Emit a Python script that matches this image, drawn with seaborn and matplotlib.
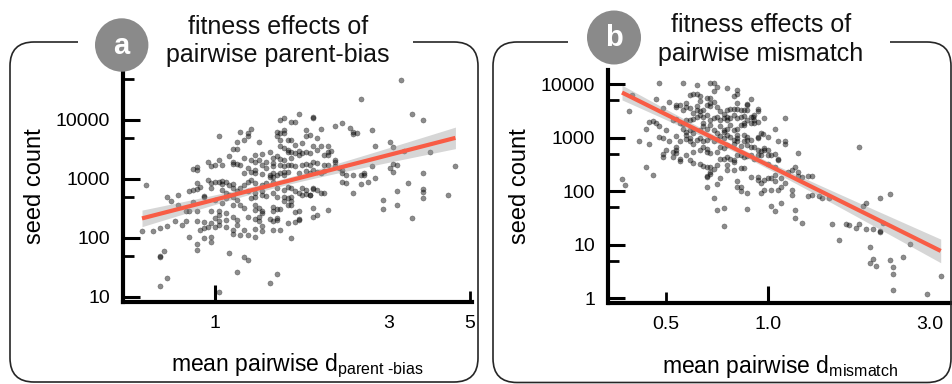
import numpy as np
import pandas as pd
import seaborn as sns
import matplotlib
matplotlib.use("Agg")
import matplotlib.pyplot as plt
from matplotlib.patches import FancyBboxPatch, Circle, Rectangle
from matplotlib.ticker import FixedLocator, FixedFormatter, LogLocator, NullFormatter, NullLocator
from matplotlib.transforms import IdentityTransform

# ---------------------------------------------------------------------------
# Data (log10 scale): mean pairwise distance and seed count for each cross
# ---------------------------------------------------------------------------
parent_bias_log10_d = [
    -0.19, -0.20, -0.17, -0.15, -0.13, -0.13, -0.12, -0.10, -0.10, -0.11,
    -0.09, -0.08, -0.08, -0.07, -0.05, -0.06, -0.07, -0.06, -0.05, -0.05,
    -0.04, -0.03, -0.03, -0.02, -0.01, -0.01, -0.06, -0.05, -0.05, -0.02,
    -0.01, 0.00, 0.01, 0.01, 0.02, 0.04, 0.05, 0.05, 0.06, 0.05,
    0.07, 0.08, 0.06, 0.06, 0.07, 0.08, 0.00, 0.01, 0.02, 0.02,
    0.03, 0.04, 0.05, 0.05, 0.06, 0.07, 0.08, 0.08, 0.02, 0.03,
    0.03, 0.04, 0.05, 0.06, 0.05, 0.07, 0.08, 0.00, -0.01, 0.01,
    0.01, 0.00, 0.01, 0.02, 0.03, 0.03, 0.05, 0.06, 0.06, 0.03,
    0.05, 0.05, 0.07, -0.05, -0.03, -0.04, -0.03, -0.02, -0.01, 0.00,
    0.01, -0.07, -0.03, -0.01, -0.05, -0.05, -0.01, 0.08, 0.08, -0.14,
    -0.15, -0.15, -0.13, -0.15, 0.04, 0.06, 0.01,
    0.40, 0.23, 0.21, 0.22, 0.19, 0.18, 0.27, 0.27, 0.10, 0.09,
    0.09, 0.12, 0.17, 0.18, 0.19, 0.19, 0.17, 0.25, 0.26, 0.25,
    0.28, 0.29, 0.33, 0.35, 0.37, 0.38, 0.39, 0.38, 0.18, 0.20,
    0.21, 0.22, 0.24, 0.27, 0.18, 0.19, 0.20, 0.20, 0.21, 0.22,
    0.23, 0.23, 0.24, 0.25, 0.26, 0.28, 0.29, 0.31, 0.31, 0.32,
    0.11, 0.13, 0.15, 0.16, 0.17, 0.18, 0.19, 0.21, 0.10, 0.11,
    0.12, 0.13, 0.14, 0.30, 0.31, 0.33, 0.33, 0.16, 0.16, 0.18,
    0.19, 0.20, 0.21, 0.22, 0.24, 0.25, 0.26, 0.27, 0.28, 0.30,
    0.31, 0.33, 0.34, 0.35, 0.09, 0.10, 0.11, 0.11, 0.13, 0.14,
    0.15, 0.15, 0.16, 0.16, 0.17, 0.18, 0.19, 0.19, 0.20, 0.23,
    0.25, 0.26, 0.27, 0.28, 0.29, 0.30, 0.35, 0.36, 0.38, 0.40,
    0.41, 0.09, 0.10, 0.11, 0.13, 0.14, 0.16, 0.17, 0.19, 0.20,
    0.21, 0.22, 0.24, 0.25, 0.26, 0.27, 0.27, 0.28, 0.35, 0.36,
    0.40, 0.09, 0.10, 0.11, 0.11, 0.13, 0.13, 0.14, 0.16, 0.17,
    0.19, 0.19, 0.20, 0.21, 0.21, 0.23, 0.24, 0.25, 0.26, 0.29,
    0.30, 0.38, 0.11, 0.11, 0.12, 0.13, 0.12, 0.13, 0.16, 0.16,
    0.17, 0.18, 0.20, 0.21, 0.22, 0.23, 0.27, 0.28, 0.27, 0.31,
    0.09, 0.11, 0.12, 0.13, 0.15, 0.17, 0.17, 0.16, 0.20, 0.22,
    0.23, 0.23, 0.09, 0.11, 0.11, 0.13, 0.16, 0.18, 0.21, 0.09,
    0.17, 0.15,
    0.51, 0.54, 0.57, 0.43, 0.44, 0.48, 0.49, 0.52, 0.59, 0.43,
    0.41, 0.42, 0.49, 0.50, 0.48, 0.49, 0.44, 0.66, 0.57, 0.53,
    0.50, 0.57, 0.57, 0.57, 0.64, 0.46, 0.46, 0.50, 0.54,
]
parent_bias_log10_seeds = [
    2.89, 2.11, 2.12, 2.16, 2.20, 2.69, 2.62, 2.73, 2.55, 2.29,
    2.22, 2.28, 2.46, 2.46, 2.46, 2.60, 2.79, 2.82, 2.83, 2.93,
    2.87, 2.70, 2.71, 2.98, 2.93, 2.84, 3.17, 3.20, 3.15, 3.28,
    3.22, 3.24, 3.73, 3.32, 3.24, 3.39, 3.25, 3.29, 3.51, 3.51,
    3.79, 3.66, 3.63, 3.25, 3.24, 3.35, 2.94, 2.95, 2.96, 2.91,
    2.94, 2.89, 2.92, 2.84, 2.79, 2.84, 2.90, 3.10, 2.81, 2.76,
    2.67, 2.72, 2.70, 2.64, 2.56, 2.56, 2.51, 2.64, 2.45, 2.45,
    2.39, 2.33, 2.28, 2.59, 2.43, 2.31, 2.36, 2.31, 2.22, 2.18,
    2.14, 2.06, 2.05, 2.28, 2.27, 2.14, 2.16, 2.19, 2.25, 2.18,
    2.22, 2.02, 1.99, 2.01, 1.90, 1.80, 1.93, 2.14, 1.67, 1.77,
    1.69, 1.67, 1.32, 1.18, 1.74, 1.43, 1.08,
    4.35, 4.10, 3.97, 3.96, 4.03, 4.00, 4.03, 4.05, 3.85, 3.77,
    3.72, 3.62, 3.80, 3.77, 3.82, 3.77, 3.73, 3.83, 3.75, 3.72,
    3.70, 3.85, 3.90, 3.94, 3.86, 3.80, 3.77, 3.76, 3.66, 3.66,
    3.66, 3.58, 3.60, 3.56, 3.55, 3.52, 3.49, 3.45, 3.46, 3.44,
    3.41, 3.47, 3.44, 3.46, 3.44, 3.49, 3.55, 3.56, 3.46, 3.47,
    3.41, 3.42, 3.45, 3.36, 3.38, 3.34, 3.32, 3.35, 3.32, 3.28,
    3.32, 3.24, 3.29, 3.40, 3.41, 3.32, 3.29, 3.27, 3.22, 3.24,
    3.21, 3.24, 3.24, 3.21, 3.24, 3.25, 3.24, 3.29, 3.27, 3.24,
    3.23, 3.21, 3.18, 3.15, 3.18, 3.12, 3.10, 3.15, 3.08, 3.18,
    3.07, 3.04, 3.10, 3.04, 3.07, 3.10, 3.12, 3.07, 3.12, 3.10,
    3.14, 3.10, 3.15, 3.12, 3.10, 3.14, 3.10, 3.07, 3.06, 3.07,
    3.10, 2.95, 2.98, 2.93, 2.90, 2.93, 2.95, 2.84, 2.81, 2.87,
    2.84, 2.79, 2.84, 2.81, 2.73, 2.85, 2.83, 2.81, 2.95, 2.93,
    2.91, 2.79, 2.68, 2.70, 2.76, 2.73, 2.79, 2.71, 2.76, 2.70,
    2.70, 2.62, 2.67, 2.70, 2.63, 2.76, 2.73, 2.74, 2.72, 2.76,
    2.76, 2.76, 2.56, 2.47, 2.50, 2.46, 2.36, 2.42, 2.53, 2.45,
    2.49, 2.49, 2.56, 2.56, 2.44, 2.45, 2.51, 2.38, 2.35, 2.47,
    2.36, 2.32, 2.28, 2.21, 2.32, 2.34, 2.31, 2.28, 2.25, 2.27,
    2.30, 2.32, 2.05, 2.15, 2.02, 2.11, 2.14, 2.14, 2.00, 1.62,
    1.38, 1.23,
    4.67, 4.10, 4.00, 3.83, 3.55, 3.62, 3.54, 3.47, 3.45, 3.21,
    3.07, 2.94, 3.25, 3.23, 3.19, 3.12, 3.01, 3.22, 3.10, 2.93,
    2.80, 2.83, 2.77, 2.67, 2.73, 2.64, 2.49, 2.55, 2.34,
]

mismatch_log10_d = [
    -0.32, -0.25, -0.21, -0.17, -0.16, -0.40, -0.41, -0.33, -0.31, -0.23,
    -0.22, -0.21, -0.20, -0.20, -0.18, -0.17, -0.16, -0.15, -0.29, -0.27,
    -0.27, -0.26, -0.25, -0.24, -0.24, -0.23, -0.22, -0.21, -0.21, -0.20,
    -0.19, -0.18, -0.17, -0.17, -0.16, -0.15, -0.35, -0.34, -0.33, -0.32,
    -0.36, -0.30, -0.28, -0.27, -0.26, -0.25, -0.24, -0.23, -0.22, -0.21,
    -0.20, -0.19, -0.18, -0.17, -0.16, -0.15, -0.38, -0.35, -0.32, -0.31,
    -0.29, -0.27, -0.26, -0.27, -0.27, -0.27, -0.28, -0.25, -0.24, -0.24,
    -0.23, -0.22, -0.22, -0.20, -0.19, -0.19, -0.18, -0.17, -0.16, -0.15,
    -0.24, -0.23, -0.23, -0.22, -0.21, -0.20, -0.19, -0.18, -0.17, -0.16,
    -0.15, -0.30, -0.31, -0.31, -0.28, -0.26, -0.26, -0.24, -0.23, -0.22,
    -0.20, -0.19, -0.18, -0.18, -0.17, -0.15, -0.22, -0.20, -0.19, -0.18,
    -0.17, -0.16, -0.15, -0.18, -0.18, -0.17, -0.17, -0.18, -0.15, -0.14,
    -0.36, -0.34, -0.43, -0.42, -0.16, -0.15,
    -0.12, -0.09, -0.10, -0.09, -0.09, -0.05, -0.06, -0.06, -0.14, -0.13,
    -0.12, -0.11, -0.10, -0.09, -0.08, -0.07, -0.06, -0.03, -0.03, -0.14,
    -0.13, -0.12, -0.12, -0.11, -0.10, -0.09, -0.08, -0.07, -0.05, -0.045,
    -0.04, -0.01, 0.05, -0.14, -0.13, -0.13, -0.12, -0.11, -0.10, -0.09,
    -0.08, -0.07, -0.07, -0.06, -0.05, -0.04, -0.04, -0.03, 0.02, 0.00,
    -0.14, -0.13, -0.12, -0.11, -0.10, -0.09, -0.09, -0.07, -0.06, -0.06,
    -0.05, -0.03, -0.02, -0.015, -0.03, 0.03, 0.05, 0.05, -0.14, -0.13,
    -0.12, -0.10, -0.09, -0.08, -0.07, -0.06, -0.05, -0.04, -0.03, -0.01,
    -0.02, -0.01, 0.00, 0.09, -0.14, -0.13, -0.12, -0.11, -0.10, -0.10,
    -0.09, -0.08, -0.07, -0.06, -0.05, -0.04, -0.03, -0.02, 0.00, 0.01,
    0.02, 0.03, 0.03, -0.12, -0.12, -0.10, -0.08, -0.07, 0.00, 0.02,
    -0.05, -0.03, -0.03, -0.02, -0.01, 0.00, 0.01, 0.02, 0.02, 0.04,
    0.05, -0.09, -0.09, -0.08, -0.08, -0.06, -0.02, -0.01, 0.01, 0.03,
    0.04, 0.07, 0.07, 0.06, 0.07, 0.08, 0.09, 0.09, 0.10, 0.12,
    0.13, 0.12, 0.13, 0.15, 0.16, 0.18, -0.13, -0.06, 0.01, 0.02,
    0.04, 0.08, 0.08, 0.10, -0.13, 0.19,
    0.27, 0.33, 0.36, 0.28, 0.29, 0.23, 0.24, 0.26, 0.27, 0.29,
    0.31, 0.33, 0.33, 0.34, 0.21, 0.30, 0.42, 0.30, 0.31, 0.32,
    0.36, 0.37, 0.40, 0.37, 0.37, 0.47, 0.51,
]
mismatch_log10_seeds = [
    4.02, 4.03, 3.99, 4.03, 4.03, 3.79, 3.50, 3.72, 3.55, 3.80,
    3.82, 3.81, 3.78, 3.69, 3.75, 3.74, 3.88, 3.95, 3.67, 3.61,
    3.58, 3.61, 3.52, 3.58, 3.64, 3.55, 3.47, 3.52, 3.59, 3.49,
    3.52, 3.61, 3.59, 3.64, 3.67, 3.58, 3.29, 3.32, 3.27, 3.22,
    3.16, 3.14, 3.33, 3.34, 3.27, 3.26, 3.33, 3.33, 3.34, 3.39,
    3.42, 3.39, 3.42, 3.33, 3.36, 3.39, 2.94, 2.88, 3.02, 2.99,
    2.93, 3.04, 2.93, 2.83, 2.77, 2.72, 2.63, 3.17, 3.11, 3.05,
    3.14, 3.08, 3.17, 3.14, 3.27, 3.21, 3.17, 3.24, 3.14, 3.08,
    2.97, 2.93, 2.99, 2.89, 2.96, 2.99, 2.93, 2.96, 3.02, 2.93,
    2.97, 2.76, 2.69, 2.64, 2.74, 2.61, 2.57, 2.68, 2.58, 2.74,
    2.77, 2.83, 2.74, 2.78, 2.71, 2.74, 2.52, 2.51, 2.47, 2.45,
    2.46, 2.41, 2.49, 2.27, 2.28, 2.32, 2.36, 2.07, 2.13, 2.24,
    2.46, 2.31, 2.22, 2.12, 1.87, 1.64,
    3.92, 3.89, 3.77, 3.82, 3.65, 3.72, 3.63, 3.61, 3.49, 3.45,
    3.52, 3.53, 3.53, 3.53, 3.52, 3.52, 3.52, 3.53, 3.50, 3.33,
    3.36, 3.33, 3.39, 3.36, 3.42, 3.36, 3.39, 3.41, 3.39, 3.39,
    3.42, 3.36, 3.36, 3.21, 3.14, 3.11, 3.17, 3.24, 3.14, 3.17,
    3.24, 3.27, 3.24, 3.33, 3.27, 3.27, 3.33, 3.30, 3.16, 3.02,
    3.03, 2.99, 3.05, 3.02, 2.96, 2.99, 3.05, 3.05, 3.02, 2.96,
    2.96, 3.02, 3.08, 3.07, 2.99, 2.93, 2.94, 2.89, 2.83, 2.80,
    2.86, 2.89, 2.93, 2.84, 2.93, 2.86, 2.83, 2.83, 2.77, 2.80,
    2.75, 2.77, 2.77, 2.71, 2.61, 2.61, 2.64, 2.61, 2.55, 2.58,
    2.68, 2.68, 2.64, 2.66, 2.68, 2.61, 2.68, 2.68, 2.68, 2.68,
    2.69, 2.58, 2.60, 2.49, 2.40, 2.40, 2.43, 2.44, 2.51, 2.46,
    2.27, 2.27, 2.21, 2.15, 2.21, 2.24, 2.24, 2.30, 2.19, 2.24,
    2.15, 2.19, 2.07, 2.07, 2.01, 1.97, 1.97, 2.02, 2.03, 2.02,
    2.08, 2.03, 1.93, 2.36, 2.40, 2.46, 2.36, 2.28, 2.27, 2.28,
    2.28, 1.91, 1.93, 1.90, 1.88, 1.87, 1.69, 1.67, 1.73, 1.63,
    1.77, 1.65, 1.50, 1.41, 1.35, 1.39,
    2.83, 1.88, 1.95, 1.72, 1.77, 1.38, 1.36, 1.32, 1.39, 1.29,
    1.29, 1.26, 1.23, 1.40, 1.09, 0.96, 1.02, 0.65, 0.73, 0.60,
    0.71, 0.58, 0.76, 0.45, 0.15, 0.08, 0.42,
]

# tick values and labels
pb_xticks, pb_xticklabels = [1, 3, 5], ["1", "3", "5"]
pb_yticks, pb_yticklabels = [10, 100, 1000, 10000], ["10", "100", "1000", "10000"]
mm_xticks, mm_xticklabels = [0.5, 1.0, 3.0], ["0.5", "1.0", "3.0"]
mm_yticks, mm_yticklabels = [1, 10, 100, 1000, 10000], ["1", "10", "100", "1000", "10000"]

panel_letters = ["a", "b"]
panel_title_lines = [["fitness effects of", "pairwise parent-bias"],
                     ["fitness effects of", "pairwise mismatch"]]
x_labels = [r"mean pairwise d$_{\text{parent -bias}}$",
            r"mean pairwise d$_{\text{mismatch}}$"]
y_label = "seed count"

# ---------------------------------------------------------------------------
# Style
# ---------------------------------------------------------------------------
sns.set_style("white")
plt.rcParams["font.family"] = ["Liberation Sans", "DejaVu Sans"]
plt.rcParams["mathtext.fontset"] = "custom"
plt.rcParams["mathtext.rm"] = "Liberation Sans"
plt.rcParams["mathtext.it"] = "Liberation Sans:italic"
plt.rcParams["mathtext.bf"] = "Liberation Sans:bold"

W, H = 953, 384
fig = plt.figure(figsize=(W / 100, H / 100), dpi=100)
fig.patch.set_facecolor("white")


def fig_xy(x, y):
    """pixel position (from top-left) -> figure fraction"""
    return x / W, 1 - y / H


def add_axes_px(left, right, top, bottom):
    x0, y0 = fig_xy(left, bottom)
    x1, y1 = fig_xy(right, top)
    return fig.add_axes([x0, y0, x1 - x0, y1 - y0])


def add_logticks(ax, axis, locs, length, width):
    """extra inward tick marks (decades / halves) drawn on a companion axis"""
    if axis == "x":
        sec = ax.secondary_xaxis("bottom")
        sec.set_ticks(locs)
        sec.xaxis.set_minor_locator(NullLocator())
        sec.tick_params(axis="x", which="major", direction="in", length=length,
                        width=width, color="black", labelbottom=False)
    else:
        sec = ax.secondary_yaxis("left")
        sec.set_ticks(locs)
        sec.yaxis.set_minor_locator(NullLocator())
        sec.tick_params(axis="y", which="major", direction="in", length=length,
                        width=width, color="black", labelleft=False)
    for sp in sec.spines.values():
        sp.set_visible(False)


def scatter_with_fit(ax, log_x, log_y):
    lx = np.asarray(log_x, dtype=float)
    ly = np.asarray(log_y, dtype=float)
    df = pd.DataFrame({"d": 10 ** lx, "seeds": 10 ** ly})
    sns.scatterplot(data=df, x="d", y="seeds", ax=ax, color="black", alpha=0.45,
                    s=14, edgecolor="black", linewidth=0.3, zorder=2, legend=False)
    # ordinary least squares on log10 scales with a 95% confidence band
    n = len(lx)
    slope, intercept = np.polyfit(lx, ly, 1)
    resid = ly - (intercept + slope * lx)
    s = np.sqrt(np.sum(resid ** 2) / (n - 2))
    xm = lx.mean()
    sxx = np.sum((lx - xm) ** 2)
    grid = np.linspace(lx.min(), lx.max(), 200)
    fit = intercept + slope * grid
    se = s * np.sqrt(1.0 / n + (grid - xm) ** 2 / sxx)
    t = 1.968
    ax.fill_between(10 ** grid, 10 ** (fit - t * se), 10 ** (fit + t * se),
                    color="#999999", alpha=0.4, linewidth=0, zorder=3)
    ax.plot(10 ** grid, 10 ** fit, color="#F85C45", linewidth=3.0,
            solid_capstyle="butt", zorder=4)


def style_axes(ax, xlim, ylim, xticks, xlabels, yticks, ylabels,
               long_x, mid_x, long_y, mid_y, xlabel):
    ax.set_xscale("log")
    ax.set_yscale("log")
    ax.set_xlim(*xlim)
    ax.set_ylim(*ylim)
    ax.set_facecolor("none")
    for side in ("top", "right"):
        ax.spines[side].set_visible(False)
    for side in ("left", "bottom"):
        ax.spines[side].set_linewidth(3.0)
        ax.spines[side].set_color("black")
    ax.xaxis.set_major_locator(FixedLocator(xticks))
    ax.xaxis.set_major_formatter(FixedFormatter(xlabels))
    ax.yaxis.set_major_locator(FixedLocator(yticks))
    ax.yaxis.set_major_formatter(FixedFormatter(ylabels))
    subs = (2, 3, 4, 6, 7, 8, 9)
    ax.xaxis.set_minor_locator(LogLocator(base=10, subs=subs, numticks=30))
    ax.yaxis.set_minor_locator(LogLocator(base=10, subs=subs, numticks=30))
    ax.xaxis.set_minor_formatter(NullFormatter())
    ax.yaxis.set_minor_formatter(NullFormatter())
    ax.xaxis.remove_overlapping_locs = False
    ax.yaxis.remove_overlapping_locs = False
    ax.tick_params(which="major", direction="out", length=6.5, width=2.2,
                   color="black", labelsize=14, labelcolor="black", pad=3)
    ax.tick_params(which="minor", direction="in", length=5, width=1.8, color="black")
    add_logticks(ax, "x", long_x, 12, 2.2)
    add_logticks(ax, "y", long_y, 12, 2.2)
    if mid_x:
        add_logticks(ax, "x", mid_x, 8, 2.0)
    add_logticks(ax, "y", mid_y, 8, 2.0)
    ax.set_xlabel(xlabel, fontsize=16.5, color="black", labelpad=14)
    ax.set_ylabel(y_label, fontsize=17, color="black", labelpad=7)


# ---------------------------------------------------------------------------
# Panels
# ---------------------------------------------------------------------------
ax_a = add_axes_px(123.5, 471.5, 70, 302)
scatter_with_fit(ax_a, parent_bias_log10_d, parent_bias_log10_seeds)
style_axes(ax_a, (0.5614, 5.06), (8.2, 70000), pb_xticks, pb_xticklabels,
           pb_yticks, pb_yticklabels, [1], [5], pb_yticks, [50, 500, 5000, 50000],
           x_labels[0])

ax_b = add_axes_px(608.5, 951, 70, 303)
scatter_with_fit(ax_b, mismatch_log10_d, mismatch_log10_seeds)
style_axes(ax_b, (0.339, 3.47), (0.81, 18400), mm_xticks, mm_xticklabels,
           mm_yticks, mm_yticklabels, [1.0], [0.5], mm_yticks, [5, 50, 500, 5000],
           x_labels[1])

# ---------------------------------------------------------------------------
# Rounded frames, letter badges and two-line headings
# ---------------------------------------------------------------------------
frames = [
    dict(x0=10, x1=478, top=42, bottom=382, gap=(78, 413),
         badge=(121.7, 45.0), r=26.7, title_x=278, baselines=(34.5, 62.0)),
    dict(x0=493, x1=951, top=42, bottom=382.5, gap=(568, 890),
         badge=(614.0, 37.5), r=27.0, title_x=761, baselines=(31.5, 61.5)),
]

for i, f in enumerate(frames):
    box = FancyBboxPatch((f["x0"], H - f["bottom"]), f["x1"] - f["x0"],
                         f["bottom"] - f["top"],
                         boxstyle="round,pad=0,rounding_size=24",
                         transform=IdentityTransform(), fill=False,
                         edgecolor="#262626", linewidth=1.2, zorder=1)
    fig.add_artist(box)
    g0, g1 = f["gap"]
    fig.add_artist(Rectangle((g0, H - f["top"] - 4), g1 - g0, 8,
                             transform=IdentityTransform(), facecolor="white",
                             edgecolor="none", zorder=2))
    cx, cy = f["badge"]
    fig.add_artist(Circle((cx, H - cy), f["r"], transform=IdentityTransform(),
                          facecolor="#8a8a8a", edgecolor="none", zorder=3))
    fig.text(*fig_xy(cx, cy + 1), panel_letters[i], ha="center", va="center",
             color="white", fontsize=21, fontweight="bold", zorder=4)
    for line, base in zip(panel_title_lines[i], f["baselines"]):
        fig.text(*fig_xy(f["title_x"], base), line, ha="center", va="baseline",
                 fontsize=18, color="#111111", zorder=4)

fig.savefig("out.png", dpi=100)
